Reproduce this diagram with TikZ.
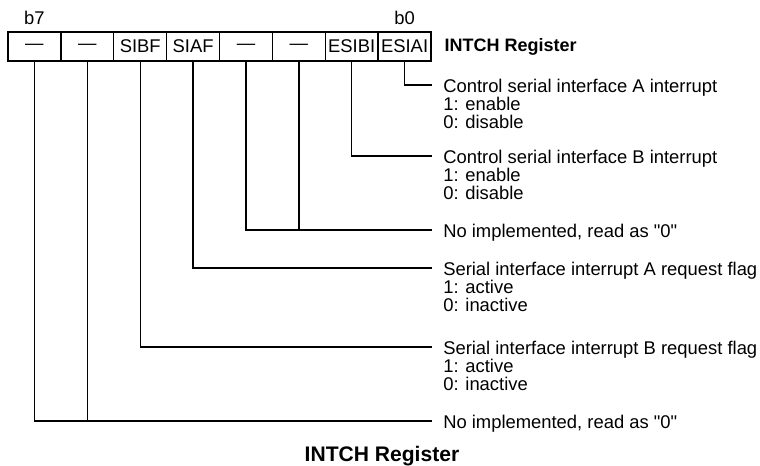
\documentclass[tikz,border=0pt]{standalone}
\usepackage{fontspec}
\setmainfont{Liberation Sans}
\usepackage{tikz}
\usetikzlibrary{positioning}
\newcommand{\cellfont}{\fontsize{13.8pt}{13.9pt}\selectfont}
\newcommand{\descfont}{\fontsize{13.8pt}{13.6pt}\selectfont}

\begin{document}
\begin{tikzpicture}[x=0.75pt,y=-0.75pt,
  bitcell/.style={draw, line width=1pt, outer sep=0pt, inner sep=0pt,
                  minimum width=39.66pt, minimum height=21.75pt, font=\cellfont},
  bitlbl/.style={inner sep=0pt, font=\cellfont},
  desc/.style={inner sep=0pt, anchor=north west, align=left, xshift=8.25pt,
               yshift=4.95pt, font=\descfont},
  regname/.style={inner sep=0pt, font=\fontsize{13.5pt}{14pt}\selectfont\bfseries},
  wire/.style={line width=1pt}
]
  \useasboundingbox (0,0) rectangle (760,465);

  % register cells, b7 ... b0
  \node[bitcell] (r7) at (34.44,46.5) {\textemdash};
  \node[bitcell,right=0pt of r7] (r6) {\textemdash};
  \node[bitcell,right=0pt of r6] (r5) {SIBF};
  \node[bitcell,right=0pt of r5] (r4) {SIAF};
  \node[bitcell,right=0pt of r4] (r3) {\textemdash};
  \node[bitcell,right=0pt of r3] (r2) {\textemdash};
  \node[bitcell,right=0pt of r2] (r1) {ESIBI};
  \node[bitcell,right=0pt of r1] (r0) {ESIAI};

  \node[bitlbl,above=5pt of r7] (lb7) {b7};
  \node[bitlbl,above=5pt of r0] (lb0) {b0};
  \node[regname,right=10pt of r0] (rn) {INTCH Register};

  % line ends
  \coordinate (t0) at (432,85);
  \coordinate (t1) at (432,156);
  \coordinate (t2) at (432,230);
  \coordinate (t3) at (432,268);
  \coordinate (t4) at (432,347);
  \coordinate (t5) at (432,421);

  \node[desc] (d0) at (t0) {Control serial interface A interrupt\\1: enable\\0: disable};
  \node[desc] (d1) at (t1) {Control serial interface B interrupt\\1: enable\\0: disable};
  \node[desc] (d2) at (t2) {No implemented, read as {\textquotedbl}0{\textquotedbl}};
  \node[desc] (d3) at (t3) {Serial interface interrupt A request flag\\1: active\\0: inactive};
  \node[desc] (d4) at (t4) {Serial interface interrupt B request flag\\1: active\\0: inactive};
  \node[desc] (d5) at (t5) {No implemented, read as {\textquotedbl}0{\textquotedbl}};

  \draw[wire] (r0.south) |- (t0);
  \draw[wire] (r1.south) |- (t1);
  \draw[wire] (r3.south) |- (t2);
  \draw[wire] (r2.south) -- (r2.south |- t2);
  \draw[wire] (r4.south) |- (t3);
  \draw[wire] (r5.south) |- (t4);
  \draw[wire] (r7.south) |- (t5);
  \draw[wire] (r6.south) -- (r6.south |- t5);

  \node[regname,font=\fontsize{15.8pt}{16pt}\selectfont\bfseries,anchor=base] (title) at (382,461) {INTCH Register};
\end{tikzpicture}
\end{document}
